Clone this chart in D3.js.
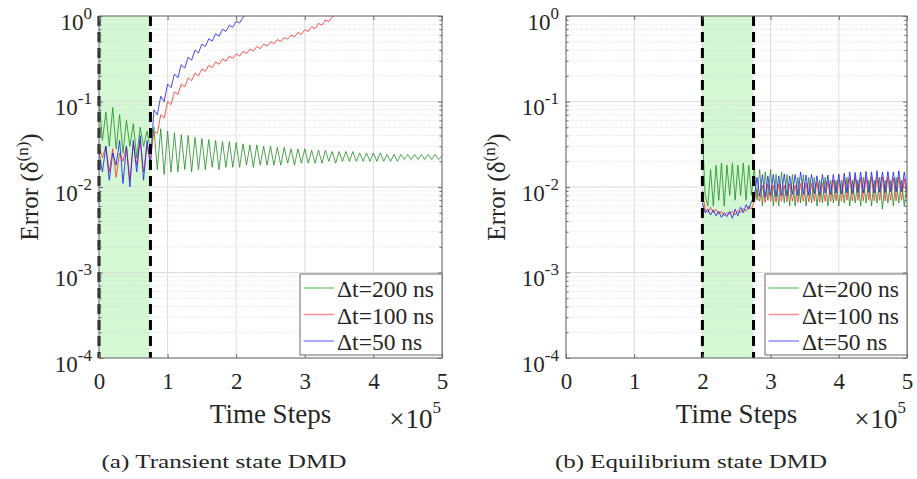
<!DOCTYPE html>
<html>
<head>
<meta charset="utf-8">
<script src="https://cdn.jsdelivr.net/npm/d3@7"></script>
<style>
body { margin: 0; background: #fff; }
svg text { font-family: "Liberation Serif", "Times New Roman", serif !important; fill: #262626; }
</style>
</head>
<body>
<div id="chart"></div>
<script>
const width = 917, height = 479;

// errors were recorded on a regular grid of time steps
const transientStart = 0, transientStep = 5000;
const equilStart = 200000, equilStep = 4000;

const seriesLabels = ["Δt=200 ns", "Δt=100 ns", "Δt=50 ns"];
const xTicks = [0, 100000, 200000, 300000, 400000, 500000];
const yTicks = [1e-4, 1e-3, 1e-2, 1e-1, 1];
const transientWindow = [0, 75000];
const equilWindow = [200000, 275000];

// (a) transient state DMD
const transient200 = [0.10,0.035,0.075,0.03,0.085,0.028,0.07,0.025,0.06,0.03,0.055,0.022,0.05,0.03,0.045,0.028,
  0.05,0.016,0.048,0.014,0.045,0.015,0.043,0.015,0.041,0.016,0.040,0.015,0.038,0.016,0.037,0.016,0.036,0.017,0.035,0.016,0.034,0.017,0.034,0.017,
  0.033,0.017,0.032,0.018,0.031,0.017,0.031,0.018,0.030,0.018,0.030,0.018,0.029,0.018,0.029,0.019,0.028,0.018,0.028,0.019,
  0.028,0.019,0.027,0.019,0.027,0.019,0.027,0.020,0.026,0.019,0.026,0.020,0.026,0.020,0.026,0.020,0.025,0.020,0.025,0.020,
  0.025,0.020,0.025,0.020,0.024,0.020,0.024,0.020,0.024,0.021,0.024,0.021,0.024,0.021,0.024,0.021,0.024,0.021,0.024,0.021,0.023];
const transient100 = [0.03,0.022,0.03,0.015,0.028,0.013,0.025,0.02,0.03,0.012,0.032,0.018,0.035,0.015,0.03,0.02,
  0.045,0.042,0.07,0.064,0.10,0.092,0.13,0.12,0.16,0.148,0.19,0.175,0.215,0.2,0.24,0.225,0.265,0.248,0.29,0.272,0.315,0.296,0.34,0.32,
  0.36,0.34,0.385,0.365,0.41,0.39,0.44,0.415,0.47,0.445,0.50,0.475,0.53,0.505,0.56,0.535,0.60,0.57,0.64,0.61,
  0.69,0.66,0.75,0.71,0.82,0.78,0.9,0.86,0.98,1.04];
const transient50 = [0.025,0.015,0.03,0.012,0.025,0.018,0.035,0.011,0.03,0.01,0.035,0.015,0.04,0.012,0.035,0.018,
  0.08,0.07,0.115,0.10,0.16,0.145,0.21,0.19,0.27,0.245,0.33,0.305,0.40,0.37,0.47,0.44,0.54,0.51,0.62,0.58,0.70,0.66,0.78,0.74,0.87,0.83,0.97,1.04];

// (b) equilibrium state DMD
const equil200 = [0.045,0.008,0.006,0.016,0.006,0.018,0.007,0.019,0.006,0.018,0.008,0.019,0.007,0.018,0.008,0.019,0.007,0.018,0.008,0.017,
  0.007,0.016,0.006,0.015,0.007,0.016,0.006,0.014,0.006,0.015,0.0065,0.014,0.006,0.014,0.006,0.013,0.0065,0.014,0.006,0.013,0.0065,0.013,0.006,0.012,0.0065,0.013,0.006,0.012,0.0065,0.012,
  0.006,0.012,0.0065,0.013,0.006,0.012,0.0065,0.012,0.006,0.013,0.0065,0.012,0.006,0.012,0.0065,0.013,0.0055,0.012,0.0065,0.012,0.006,0.013,0.0065,0.012,0.006,0.011];
const equil100 = [0.009,0.0055,0.005,0.0058,0.005,0.0055,0.0048,0.0052,0.0046,0.005,0.0048,0.0052,0.0047,0.0053,0.005,0.0056,0.0052,0.006,0.0055,0.0068,
  0.0095,0.0068,0.0105,0.0066,0.011,0.0068,0.0105,0.0066,0.011,0.0068,0.0105,0.0067,0.011,0.0068,0.0105,0.0066,0.011,0.0068,0.0112,0.0067,0.011,0.0068,0.0115,0.0067,0.0112,0.0068,0.0118,0.0068,0.012,0.0069,
  0.0122,0.0068,0.0125,0.007,0.0128,0.0069,0.013,0.007,0.0128,0.0069,0.013,0.007,0.0132,0.0069,0.013,0.007,0.0132,0.0069,0.013,0.007,0.0128,0.0069,0.013,0.007,0.0125,0.0072];
const equil50 = [0.0065,0.005,0.0055,0.0047,0.0054,0.0046,0.0052,0.0044,0.005,0.0045,0.0052,0.0043,0.0055,0.0046,0.0058,0.005,0.0062,0.0055,0.0068,0.0075,
  0.013,0.0078,0.014,0.0076,0.0135,0.008,0.014,0.0077,0.0135,0.008,0.0142,0.0078,0.0135,0.0082,0.014,0.0079,0.015,0.0082,0.0138,0.008,0.014,0.0083,0.0135,0.008,0.014,0.0085,0.0138,0.0082,0.014,0.0085,
  0.0142,0.0083,0.0145,0.0085,0.015,0.0084,0.0148,0.0086,0.015,0.0085,0.0152,0.0086,0.015,0.0085,0.0155,0.0087,0.015,0.0086,0.0152,0.0088,0.015,0.0087,0.0155,0.0088,0.015,0.009];

const lineColors = ["#1f8f1f", "#ff2a2a", "#1a1aee"];
const legendColors = ["#7fcf7f", "#ff8c8c", "#8c8cff"];
const serif = '"Liberation Serif", "Times New Roman", serif';

const svg = d3.select("#chart").append("svg")
  .attr("width", width)
  .attr("height", height)
  .style("font-family", serif);

function drawPanel(p) {
  const g = svg.append("g");
  const x = d3.scaleLinear().domain([0, 500000]).range([p.left, p.right]);
  const y = d3.scaleLog().domain([1e-4, 1]).range([p.bottom, p.top]);
  const minorY = y.ticks().filter(v => !yTicks.some(t => Math.abs(t - v) < v * 1e-6));

  // shaded training window
  g.append("rect")
    .attr("x", x(p.window[0]))
    .attr("y", p.top)
    .attr("width", x(p.window[1]) - x(p.window[0]))
    .attr("height", p.bottom - p.top)
    .attr("fill", "#d3f8d3");

  // grid
  g.append("g").selectAll("line").data(minorY).join("line")
    .attr("x1", p.left).attr("x2", p.right)
    .attr("y1", d => y(d)).attr("y2", d => y(d))
    .attr("stroke", "#d0d0d0").attr("stroke-width", 0.7)
    .attr("stroke-dasharray", "1,1.5");
  g.append("g").selectAll("line").data(yTicks).join("line")
    .attr("x1", p.left).attr("x2", p.right)
    .attr("y1", d => y(d)).attr("y2", d => y(d))
    .attr("stroke", "#dcdcdc").attr("stroke-width", 1);
  g.append("g").selectAll("line").data(xTicks).join("line")
    .attr("x1", d => x(d)).attr("x2", d => x(d))
    .attr("y1", p.top).attr("y2", p.bottom)
    .attr("stroke", "#dcdcdc").attr("stroke-width", 1);

  // series
  const clipId = "clip-" + p.id;
  svg.append("clipPath").attr("id", clipId).append("rect")
    .attr("x", p.left).attr("y", p.top)
    .attr("width", p.right - p.left).attr("height", p.bottom - p.top);

  const lines = g.append("g").attr("clip-path", `url(#${clipId})`);
  p.order.forEach(k => {
    const line = d3.line()
      .x((d, i) => x(p.start + i * p.step))
      .y(d => y(d));
    lines.append("path")
      .datum(p.series[k])
      .attr("d", line)
      .attr("fill", "none")
      .attr("stroke", lineColors[k])
      .attr("stroke-opacity", 0.8)
      .attr("stroke-width", 1);
  });

  // dashed window borders
  g.append("g").selectAll("line").data(p.window).join("line")
    .attr("x1", d => x(d)).attr("x2", d => x(d))
    .attr("y1", p.top).attr("y2", p.bottom)
    .attr("stroke", "#000").attr("stroke-width", 3)
    .attr("stroke-dasharray", "10,6");

  // axes (ticks point inward)
  const axisColor = "#6a6a6a";
  const yAxis = g.append("g")
    .attr("transform", `translate(${p.left},0)`)
    .call(d3.axisLeft(y).tickValues(yTicks).tickSizeInner(-4).tickSizeOuter(0).tickPadding(7));
  yAxis.selectAll("text")
    .attr("dy", "13px")
    .text(null)
    .each(function (d) {
      const t = d3.select(this);
      t.append("tspan").text("10");
      t.append("tspan").attr("dy", "-11px").style("font-size", "17px").text(Math.round(Math.log10(d)));
    });
  g.append("g")
    .attr("transform", `translate(${p.left},0)`)
    .call(d3.axisLeft(y).tickValues(minorY).tickSizeInner(-2.5).tickSizeOuter(0).tickFormat(""));
  g.append("g")
    .attr("transform", `translate(${p.right},0)`)
    .call(d3.axisRight(y).tickValues(yTicks).tickSizeInner(-4).tickSizeOuter(0).tickFormat(""));
  g.append("g")
    .attr("transform", `translate(${p.right},0)`)
    .call(d3.axisRight(y).tickValues(minorY).tickSizeInner(-2.5).tickSizeOuter(0).tickFormat(""));
  g.append("g")
    .attr("transform", `translate(0,${p.bottom})`)
    .call(d3.axisBottom(x).tickValues(xTicks).tickSizeInner(-4).tickSizeOuter(0).tickPadding(15)
      .tickFormat(d => d / 100000));
  g.append("g")
    .attr("transform", `translate(0,${p.top})`)
    .call(d3.axisTop(x).tickValues(xTicks).tickSizeInner(-4).tickSizeOuter(0).tickFormat(""));
  g.selectAll(".domain").remove();
  g.selectAll(".tick line").attr("stroke", axisColor);
  g.selectAll(".tick text")
    .attr("fill", "#262626")
    .style("font-family", serif)
    .style("font-size", "23px");

  g.append("rect")
    .attr("x", p.left).attr("y", p.top)
    .attr("width", p.right - p.left).attr("height", p.bottom - p.top)
    .attr("fill", "none").attr("stroke", axisColor).attr("stroke-width", 1);

  // legend
  const lw = 142, lh = 81;
  const lx = p.right - lw, ly = p.bottom - 3 - lh;
  const legend = g.append("g").attr("transform", `translate(${lx},${ly})`);
  legend.append("rect")
    .attr("width", lw).attr("height", lh)
    .attr("fill", "#fff").attr("stroke", axisColor).attr("stroke-width", 1);
  seriesLabels.forEach((lab, i) => {
    const cy = 14 + i * 26.5;
    legend.append("line")
      .attr("x1", 3.5).attr("x2", 34).attr("y1", cy).attr("y2", cy)
      .attr("stroke", legendColors[i]).attr("stroke-width", 1.5);
    legend.append("text")
      .attr("x", 37).attr("y", cy + 9)
      .style("font-family", serif)
      .style("font-size", "23.5px")
      .text(lab);
  });

  // axis labels
  const ylab = g.append("text")
    .attr("transform", `translate(${p.ylabX},${(p.top + p.bottom) / 2}) rotate(-90)`)
    .attr("text-anchor", "middle")
    .style("font-size", "25px");
  ylab.append("tspan").text("Error (δ");
  ylab.append("tspan").attr("dy", "-10px").style("font-size", "17px").text("(n)");
  ylab.append("tspan").attr("dy", "10px").text(")");

  g.append("text")
    .attr("x", (p.left + p.right) / 2).attr("y", 423)
    .attr("text-anchor", "middle")
    .style("font-size", "27px")
    .text("Time Steps");

  const mult = g.append("text")
    .attr("x", p.right - 1).attr("y", 428)
    .attr("text-anchor", "end")
    .style("font-size", "27px");
  mult.append("tspan").text("×");
  mult.append("tspan").attr("dx", "1px").text("10");
  mult.append("tspan").attr("dy", "-15px").style("font-size", "17px").text("5");

  g.append("text")
    .attr("x", p.capX).attr("y", 468)
    .attr("text-anchor", "middle")
    .attr("textLength", p.capW)
    .attr("lengthAdjust", "spacingAndGlyphs")
    .style("font-size", "18px")
    .text(p.caption);
}

drawPanel({
  id: "a", left: 99, right: 442, top: 16, bottom: 358,
  start: transientStart, step: transientStep,
  series: [transient200, transient100, transient50],
  order: [1, 2, 0],
  window: transientWindow,
  ylabX: 38, capX: 224, capW: 245,
  caption: "(a) Transient state DMD"
});

drawPanel({
  id: "b", left: 566, right: 907, top: 16, bottom: 358,
  start: equilStart, step: equilStep,
  series: [equil200, equil100, equil50],
  order: [1, 0, 2],
  window: equilWindow,
  ylabX: 505, capX: 691, capW: 272,
  caption: "(b) Equilibrium state DMD"
});
</script>
</body>
</html>
